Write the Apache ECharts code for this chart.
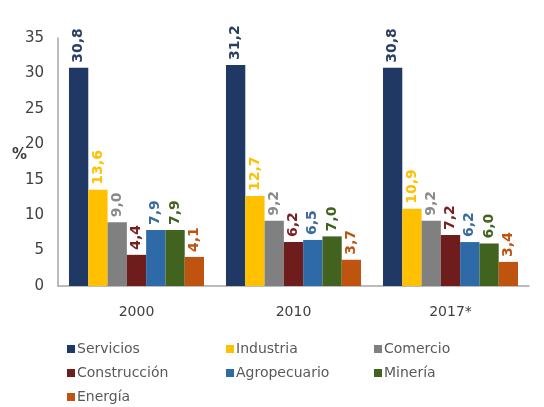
<!DOCTYPE html>
<html><head><meta charset="utf-8">
<script src="https://cdn.jsdelivr.net/npm/echarts@6/dist/echarts.min.js"></script>
<style>html,body{margin:0;padding:0;background:#fff}#c{width:544px;height:407px}</style>
</head><body><div id="c"></div>
<script>
const categories = ['2000', '2010', '2017*'];
const seriesNames = ['Servicios', 'Industria', 'Comercio', 'Construcción', 'Agropecuario', 'Minería', 'Energía'];
const servicios = [30.8, 31.2, 30.8];
const industria = [13.6, 12.7, 10.9];
const comercio = [9.0, 9.2, 9.2];
const construccion = [4.4, 6.2, 7.2];
const agropecuario = [7.9, 6.5, 6.2];
const mineria = [7.9, 7.0, 6.0];
const energia = [4.1, 3.7, 3.4];
const yTicks = [0, 5, 10, 15, 20, 25, 30, 35];

const values = [servicios, industria, comercio, construccion, agropecuario, mineria, energia];
const colors = ['#1f3864', '#ffc000', '#808080', '#6e1c1c', '#2e69a8', '#41631f', '#bf5410'];
const labelColors = ['#2a3f66', '#ffc000', '#8a8a8a', '#7a1f1f', '#3a6aa0', '#41631f', '#bf5410'];
const FONT = 'DejaVu Sans, Arial, sans-serif';

const chart = echarts.init(document.getElementById('c'));
const series = seriesNames.map((n, i) => ({
  name: n, type: 'bar', data: values[i], barGap: '0%', barCategoryGap: '14%',
  itemStyle: { color: colors[i] },
  label: {
    show: true, position: 'top', rotate: 90, align: 'left', verticalAlign: 'middle', distance: 5,
    color: labelColors[i], fontSize: 14, fontWeight: 'bold', fontFamily: FONT,
    formatter: p => p.value.toFixed(1).replace('.', ',')
  }
}));
const legendBase = {
  orient: 'vertical', icon: 'rect', itemWidth: 8, itemHeight: 8, itemGap: 10, height: 100,
  textStyle: { fontSize: 14, color: '#595959', fontFamily: FONT, padding: [0, 0, 0, -3] },
  top: 337
};
chart.setOption({
  animation: false,
  grid: { left: 58, right: 15, top: 38, bottom: 121 },
  graphic: [{
    type: 'text', left: 12, top: 148,
    style: { text: '%', fontSize: 15, fontWeight: 'bold', fill: '#404040', fontFamily: FONT }
  }],
  legend: [
    Object.assign({}, legendBase, { left: 62, data: ['Servicios', 'Construcción', 'Energía'] }),
    Object.assign({}, legendBase, { left: 221, data: ['Industria', 'Agropecuario'] }),
    Object.assign({}, legendBase, { left: 369, data: ['Comercio', 'Minería'] })
  ],
  xAxis: {
    type: 'category', data: categories,
    axisLine: { lineStyle: { color: '#a6a6a6', width: 1.5 } },
    axisTick: { show: false },
    axisLabel: { fontSize: 14, color: '#404040', margin: 19, fontFamily: FONT }
  },
  yAxis: {
    type: 'value', min: yTicks[0], max: yTicks[yTicks.length - 1], interval: 5,
    axisLine: { show: true, lineStyle: { color: '#a6a6a6', width: 1.5 } },
    axisTick: { show: false },
    splitLine: { show: false },
    axisLabel: { fontSize: 15, color: '#404040', margin: 14, fontFamily: FONT }
  },
  series: series
});
</script></body></html>
